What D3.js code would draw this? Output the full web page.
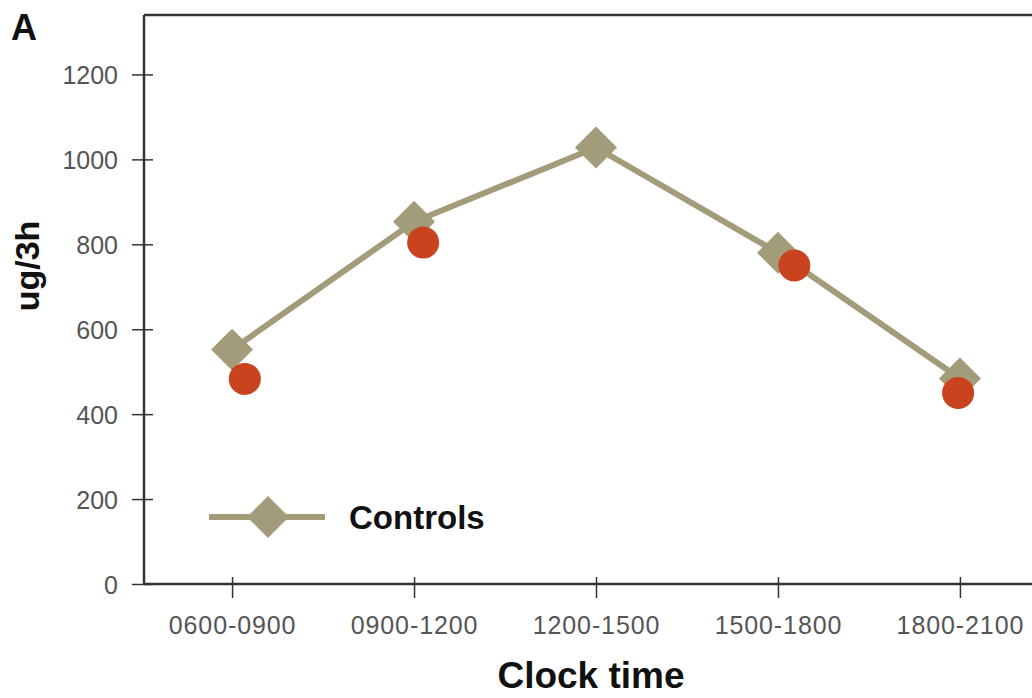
<!DOCTYPE html>
<html>
<head>
<meta charset="utf-8">
<script src="https://cdn.jsdelivr.net/npm/d3@7"></script>
<style>
  body { margin: 0; background: #fff; }
  svg { display: block; font-family: "Liberation Sans", Arial, sans-serif; }
</style>
</head>
<body>
<div id="chart"></div>
<script>
const categories = ['0600-0900', '0900-1200', '1200-1500', '1500-1800', '1800-2100'];
const controls = [552, 853, 1028, 780, 484];
// second (unlabelled) series, plotted slightly off the category centre
const otherPos = [0.07, 1.05, 3.09, 3.99];
const otherVals = [483, 804, 750, 450];
const yTicks = [0, 200, 400, 600, 800, 1000, 1200];

const width = 1032, height = 698;
const margin = { top: 15, left: 144, bottom: 114 };

const svg = d3.select('#chart').append('svg')
  .attr('width', width)
  .attr('height', height);

const x = d3.scaleLinear().domain([-0.484, 4.396]).range([margin.left, width]);
const y = d3.scaleLinear().domain([0, 1340]).range([height - margin.bottom, margin.top]);

const khaki = '#a39c7b';
const red = '#c9431f';
const axisColor = '#333';

// top frame line
svg.append('line')
  .attr('x1', margin.left).attr('x2', width)
  .attr('y1', margin.top).attr('y2', margin.top)
  .attr('stroke', axisColor).attr('stroke-width', 2.5);

// y axis
const yAxis = svg.append('g')
  .attr('transform', `translate(${margin.left},0)`)
  .call(d3.axisLeft(y).tickValues(yTicks).tickFormat(d3.format('d')).tickSize(12).tickPadding(14));
yAxis.select('.domain').attr('d', `M0,${margin.top}V${y(0)}`).attr('stroke', axisColor).attr('stroke-width', 2.5);
yAxis.selectAll('.tick line').attr('x1', 9).attr('x2', -12).attr('stroke', axisColor).attr('stroke-width', 1.5);
yAxis.selectAll('.tick text')
  .attr('font-size', 25).attr('fill', '#555').attr('dy', '0.36em')
  .attr('font-family', '"Liberation Sans", Arial, sans-serif');

// x axis
const xAxis = svg.append('g')
  .attr('transform', `translate(0,${y(0)})`)
  .call(d3.axisBottom(x).tickValues(d3.range(categories.length)).tickFormat(i => categories[i]).tickSize(14).tickPadding(18));
xAxis.select('.domain').attr('d', `M${margin.left},0H${width}`).attr('stroke', axisColor).attr('stroke-width', 2.5);
xAxis.selectAll('.tick line').attr('y1', -7).attr('y2', 14).attr('stroke', axisColor).attr('stroke-width', 1.5);
xAxis.selectAll('.tick text')
  .attr('font-size', 25).attr('fill', '#555').attr('letter-spacing', 0.9)
  .attr('font-family', '"Liberation Sans", Arial, sans-serif');

// controls line
const line = d3.line().x((d, i) => x(i)).y(d => y(d));
svg.append('path')
  .datum(controls)
  .attr('d', line)
  .attr('fill', 'none')
  .attr('stroke', khaki)
  .attr('stroke-width', 6);

const diamond = d3.symbol(d3.symbolSquare, 880);
svg.selectAll('.diamond')
  .data(controls)
  .enter().append('path')
  .attr('class', 'diamond')
  .attr('d', diamond)
  .attr('transform', (d, i) => `translate(${x(i)},${y(d)}) rotate(45)`)
  .attr('fill', khaki);

// red points
svg.selectAll('.dot')
  .data(otherVals)
  .enter().append('circle')
  .attr('class', 'dot')
  .attr('cx', (d, i) => x(otherPos[i]))
  .attr('cy', d => y(d))
  .attr('r', 16)
  .attr('fill', red);

// legend
const legend = svg.append('g').attr('transform', `translate(209,517)`);
legend.append('line')
  .attr('x1', 0).attr('x2', 116)
  .attr('stroke', khaki).attr('stroke-width', 6);
legend.append('path')
  .attr('d', diamond)
  .attr('transform', 'translate(59,0) rotate(45)')
  .attr('fill', khaki);
legend.append('text')
  .attr('x', 140).attr('y', 12)
  .attr('font-size', 33).attr('font-weight', 'bold')
  .attr('fill', '#111')
  .text('Controls');

// axis titles
svg.append('text')
  .attr('x', 591).attr('y', 688)
  .attr('text-anchor', 'middle')
  .attr('font-size', 37).attr('font-weight', 'bold')
  .attr('fill', '#111')
  .text('Clock time');

svg.append('text')
  .attr('transform', 'translate(39,266) rotate(-90)')
  .attr('text-anchor', 'middle')
  .attr('font-size', 34).attr('font-weight', 'bold')
  .attr('fill', '#111')
  .text('ug/3h');

svg.append('text')
  .attr('x', 11).attr('y', 40)
  .attr('font-size', 36).attr('font-weight', 'bold')
  .attr('fill', '#111')
  .text('A');
</script>
</body>
</html>
